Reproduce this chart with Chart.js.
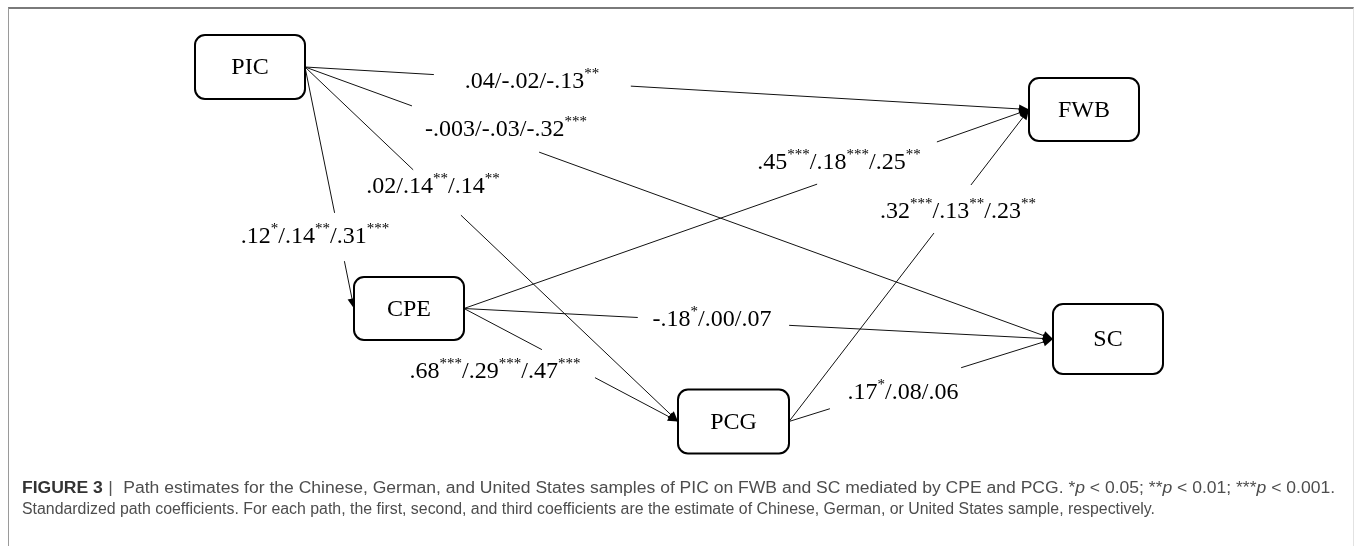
<!DOCTYPE html>
<html lang="en">
<head>
  <meta charset="UTF-8" />
  <title>Path estimates PIC - FWB / SC</title>
  <script src="https://cdn.jsdelivr.net/npm/chart.js"></script>
  <style>
    html, body {
      margin: 0;
      padding: 0;
      background: #fff;
      width: 1354px;
      height: 546px;
      overflow: hidden;
    }
    #frame {
      position: absolute;
      left: 8px;
      top: 7px;
      width: 1344px;
      height: 560px;
      border-top: 2px solid #7a7a7a;
      border-left: 1px solid #9a9a9a;
      border-right: 1px solid #e2e2e2;
    }
    #diagram {
      position: absolute;
      left: 0;
      top: 0;
    }
    .caption {
      position: absolute;
      left: 22px;
      font-family: "Liberation Sans", Arial, sans-serif;
      font-size: 16px;
      color: #4d4d4d;
      white-space: nowrap;
      transform-origin: left top;
    }
    .caption b { color: #333; }
    .caption .bar { color: #555; margin: 0 5px; }
  </style>
</head>
<body>
  <div id="frame"></div>
  <canvas id="diagram" width="1354" height="546"></canvas>

  <div class="caption" id="cap1" style="top:479px"><b>FIGURE 3</b><span class="bar">|</span> Path estimates for the Chinese, German, and United States samples of PIC on FWB and SC mediated by CPE and PCG. *<i>p</i> &lt; 0.05; **<i>p</i> &lt; 0.01; ***<i>p</i> &lt; 0.001.</div>
  <div class="caption" id="cap2" style="top:500px">Standardized path coefficients. For each path, the first, second, and third coefficients are the estimate of Chinese, German, or United States sample, respectively.</div>

  <script>
    // nodes of the model
    const nodeNames = ['PIC', 'CPE', 'PCG', 'FWB', 'SC'];
    const nodeX = [250, 409, 733.5, 1084, 1108];
    const nodeY = [67, 308.5, 421.5, 109.5, 339];

    // paths (from -> to) and their coefficients Chinese/German/US
    const pathFrom = [0, 0, 0, 0, 1, 1, 1, 2, 2];
    const pathTo   = [3, 4, 2, 1, 3, 4, 2, 3, 4];
    const pathCoefs = [
      '.04/-.02/-.13**',
      '-.003/-.03/-.32***',
      '.02/.14**/.14**',
      '.12*/.14**/.31***',
      '.45***/.18***/.25**',
      '-.18*/.00/.07',
      '.68***/.29***/.47***',
      '.32***/.13**/.23**',
      '.17*/.08/.06'
    ];

    // layout only
    const boxW = [110, 110, 111, 110, 110];
    const boxH = [64, 63, 64, 63, 70];
    const labelPos = [[532, 82], [506, 130], [433, 187], [315, 237], [839, 163],
                      [712, 320], [495, 372], [958, 212], [903, 393]];
    const labelGap = [[.178, .45], [.143, .313], [.29, .418], [.604, .804], [.625, .837],
                      [.295, .552], [.364, .612], [.604, .758], [.155, .652]];

    const SERIF = '"Liberation Serif", "Times New Roman", serif';

    function lerp(a, b, t) {
      return { x: a.x + (b.x - a.x) * t, y: a.y + (b.y - a.y) * t };
    }

    // build line segments for every path (split where the label sits)
    const ends = pathFrom.map((f, i) => {
      const t = pathTo[i];
      return {
        a: { x: nodeX[f] + boxW[f] / 2, y: nodeY[f] },
        b: { x: nodeX[t] - boxW[t] / 2, y: nodeY[t] }
      };
    });

    const datasets = [];
    ends.forEach((e, i) => {
      const g = labelGap[i];
      [[e.a, lerp(e.a, e.b, g[0])], [lerp(e.a, e.b, g[1]), e.b]].forEach(seg => {
        datasets.push({
          data: seg,
          showLine: true,
          borderColor: '#111',
          borderWidth: 1,
          pointRadius: 0,
          clip: false
        });
      });
    });

    // nodes as an invisible dataset, boxes drawn by the plugin
    datasets.push({
      data: nodeNames.map((n, i) => ({ x: nodeX[i], y: nodeY[i] })),
      pointRadius: 0,
      showLine: false
    });

    function drawCoef(ctx, text, cx, cy) {
      const parts = text.split(/(\*+)/).filter(s => s.length);
      const big = '24px ' + SERIF, small = '15px ' + SERIF;
      let w = 0;
      parts.forEach(p => {
        ctx.font = p[0] === '*' ? small : big;
        w += ctx.measureText(p).width;
      });
      let x = cx - w / 2;
      ctx.textAlign = 'left';
      ctx.textBaseline = 'middle';
      ctx.fillStyle = '#000';
      parts.forEach(p => {
        const sup = p[0] === '*';
        ctx.font = sup ? small : big;
        ctx.fillText(p, x, sup ? cy - 8 : cy);
        x += ctx.measureText(p).width;
      });
    }

    const pathPlugin = {
      id: 'pathPlugin',
      afterDatasetsDraw(chart) {
        const ctx = chart.ctx;
        const xs = chart.scales.x, ys = chart.scales.y;
        ctx.save();

        // arrow heads
        ends.forEach(e => {
          const x1 = xs.getPixelForValue(e.a.x), y1 = ys.getPixelForValue(e.a.y);
          const x2 = xs.getPixelForValue(e.b.x), y2 = ys.getPixelForValue(e.b.y);
          const ang = Math.atan2(y2 - y1, x2 - x1);
          const len = 10, hw = 4.5;
          ctx.beginPath();
          ctx.moveTo(x2, y2);
          ctx.lineTo(x2 - len * Math.cos(ang) + hw * Math.sin(ang), y2 - len * Math.sin(ang) - hw * Math.cos(ang));
          ctx.lineTo(x2 - len * Math.cos(ang) - hw * Math.sin(ang), y2 - len * Math.sin(ang) + hw * Math.cos(ang));
          ctx.closePath();
          ctx.fillStyle = '#000';
          ctx.fill();
        });

        // node boxes
        nodeNames.forEach((name, i) => {
          const left = xs.getPixelForValue(nodeX[i] - boxW[i] / 2);
          const right = xs.getPixelForValue(nodeX[i] + boxW[i] / 2);
          const top = ys.getPixelForValue(nodeY[i] + boxH[i] / 2);
          const bottom = ys.getPixelForValue(nodeY[i] - boxH[i] / 2);
          ctx.beginPath();
          ctx.roundRect(left, Math.min(top, bottom), right - left, Math.abs(bottom - top), 10);
          ctx.fillStyle = '#fff';
          ctx.fill();
          ctx.lineWidth = 2;
          ctx.strokeStyle = '#000';
          ctx.stroke();
          ctx.font = '24px ' + SERIF;
          ctx.fillStyle = '#000';
          ctx.textAlign = 'center';
          ctx.textBaseline = 'middle';
          ctx.fillText(name, xs.getPixelForValue(nodeX[i]), ys.getPixelForValue(nodeY[i]) + 1);
        });

        // coefficients
        pathCoefs.forEach((c, i) => {
          drawCoef(ctx, c, xs.getPixelForValue(labelPos[i][0]), ys.getPixelForValue(labelPos[i][1]));
        });
        ctx.restore();
      }
    };

    new Chart(document.getElementById('diagram'), {
      type: 'scatter',
      data: { datasets: datasets },
      options: {
        responsive: false,
        animation: false,
        events: [],
        layout: { padding: 0 },
        scales: {
          x: { type: 'linear', min: 0, max: 1354, display: false },
          y: { type: 'linear', min: 0, max: 546, reverse: true, display: false }
        },
        plugins: {
          legend: { display: false },
          tooltip: { enabled: false }
        }
      },
      plugins: [pathPlugin]
    });

    // fit caption lines to the width of the printed caption
    [['cap1', 1313], ['cap2', 1133]].forEach(([id, target]) => {
      const el = document.getElementById(id);
      const w = el.getBoundingClientRect().width;
      el.style.transform = 'scaleX(' + (target / w) + ')';
    });
  </script>
</body>
</html>
